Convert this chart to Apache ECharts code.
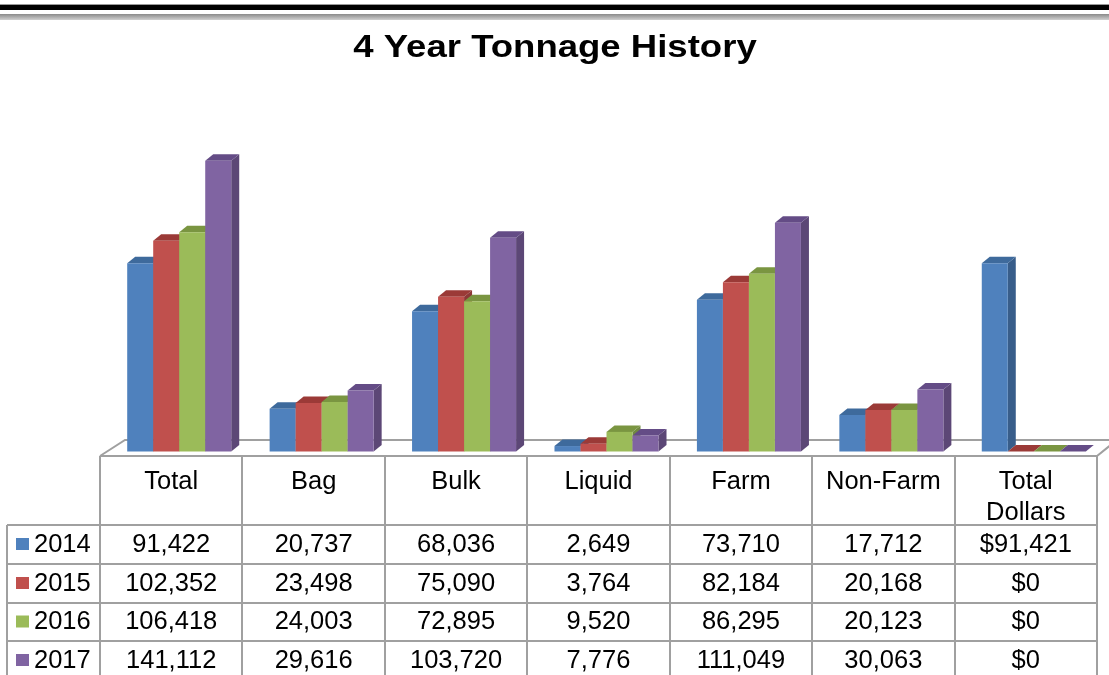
<!DOCTYPE html>
<html>
<head>
<meta charset="utf-8">
<script src="https://cdn.jsdelivr.net/npm/echarts@6/dist/echarts.min.js"></script>
<style>
html,body{margin:0;padding:0;background:#fff;}
#chart{width:1109px;height:675px;}
</style>
</head>
<body>
<div id="chart"></div>
<script>
const categories = ['Total', 'Bag', 'Bulk', 'Liquid', 'Farm', 'Non-Farm', 'Total\nDollars'];
const years = ['2014', '2015', '2016', '2017'];
const v2014 = [91422, 20737, 68036, 2649, 73710, 17712, 91421];
const v2015 = [102352, 23498, 75090, 3764, 82184, 20168, 0];
const v2016 = [106418, 24003, 72895, 9520, 86295, 20123, 0];
const v2017 = [141112, 29616, 103720, 7776, 111049, 30063, 0];
const seriesValues = [v2014, v2015, v2016, v2017];
const dollarColumn = 6;

const frontColors = ['#4F81BD', '#C0504D', '#9BBB59', '#8064A2'];
const sideColors = ['#385D8A', '#8C3836', '#71893F', '#5C4776'];
const topColors = ['#3E6A9C', '#9B3A37', '#7A9541', '#644C86'];

const FONT = 'Liberation Sans';
const LINE = '#a0a0a0';

const chart = echarts.init(document.getElementById('chart'));

function fmt(v, col) {
  const s = String(v).replace(/\B(?=(\d{3})+(?!\d))/g, ',');
  return col === dollarColumn ? '$' + s : s;
}

function makeRender(si) {
  return function (params, api) {
    const idx = api.value(0);
    const val = api.value(1);
    const c = api.coord([idx, val]);
    const b = api.coord([idx, 0]);
    const colW = api.size([1, 0])[0];
    const bw = colW * 0.1826;
    const dx = 8, dy = 6.5;
    const left = c[0] - 2 * bw + 8 + si * bw;
    const top = c[1], bot = b[1];
    return {
      type: 'group',
      children: [
        {
          type: 'polygon',
          shape: { points: [[left + bw, top], [left + bw + dx, top - dy], [left + bw + dx, bot - dy], [left + bw, bot]] },
          style: { fill: sideColors[si] }
        },
        {
          type: 'polygon',
          shape: { points: [[left, top], [left + dx, top - dy], [left + bw + dx, top - dy], [left + bw, top]] },
          style: { fill: topColors[si] }
        },
        {
          type: 'rect',
          shape: { x: left, y: top, width: bw, height: bot - top },
          style: { fill: frontColors[si] }
        }
      ]
    };
  };
}

const series = seriesValues.map((vals, si) => ({
  type: 'custom',
  name: years[si],
  renderItem: makeRender(si),
  data: vals.map((v, i) => [i, v]),
  encode: { x: 0, y: 1 },
  z: 3,
  silent: true
}));

const option = {
  animation: false,
  backgroundColor: '#fff',
  grid: { left: 100, right: 12, top: 142.5, bottom: 223.5 },
  xAxis: {
    type: 'category',
    data: categories,
    axisLine: { show: false },
    axisTick: { show: false },
    axisLabel: {
      interval: 0,
      color: '#000',
      fontFamily: FONT,
      fontSize: 25.5,
      lineHeight: 31,
      margin: 15
    }
  },
  yAxis: {
    type: 'value',
    min: 0,
    max: 150000,
    show: false,
    splitLine: { show: false }
  },
  series: series
};
chart.setOption(option);

// Build table + decoration
const gLeft = 100, gRight = 1097;
const colW = (gRight - gLeft) / categories.length;
const rowLines = [525, 564, 603, 641, 680];
const g = [];

// top decorative lines
g.push({ type: 'rect', shape: { x: 0, y: 4, width: 1109, height: 1 }, style: { fill: '#999' }, silent: true });
g.push({ type: 'rect', shape: { x: 0, y: 5, width: 1109, height: 5 }, style: { fill: '#000' }, silent: true });
g.push({
  type: 'rect', shape: { x: 0, y: 14, width: 1109, height: 6 }, silent: true,
  style: { fill: new echarts.graphic.LinearGradient(0, 0, 0, 1, [{ offset: 0, color: '#8a8a8a' }, { offset: 1, color: '#d0d0d0' }]) }
});

// title
g.push({
  type: 'text', x: 555, y: 48, scaleX: 1.16, silent: true,
  style: { text: '4 Year Tonnage History', x: 0, y: 0, align: 'center', verticalAlign: 'middle', fill: '#000',
           fontFamily: FONT, fontSize: 31.5, fontWeight: 'bold' }
});

// floor
const lineStyle = { stroke: LINE, lineWidth: 2, fill: null };
g.push({ type: 'polyline', shape: { points: [[gLeft, 456], [125, 440], [1112, 440]] }, style: lineStyle, silent: true, z: 0 });
g.push({ type: 'polyline', shape: { points: [[gLeft, 456], [gRight, 456], [1112, 444]] }, style: lineStyle, silent: true, z: 0 });

// table horizontal lines
rowLines.forEach(y => {
  g.push({ type: 'line', shape: { x1: 7, y1: y, x2: gRight, y2: y }, style: { stroke: LINE, lineWidth: 2 }, silent: true });
});
// verticals
g.push({ type: 'line', shape: { x1: 7, y1: 525, x2: 7, y2: 680 }, style: { stroke: LINE, lineWidth: 2 }, silent: true });
for (let k = 0; k <= categories.length; k++) {
  const x = Math.round(gLeft + k * colW);
  g.push({ type: 'line', shape: { x1: x, y1: 456, x2: x, y2: 680 }, style: { stroke: LINE, lineWidth: 2 }, silent: true });
}

// rows
years.forEach((yr, si) => {
  const yc = (rowLines[si] + rowLines[si + 1]) / 2;
  g.push({ type: 'rect', shape: { x: 16, y: yc - 6.5, width: 13, height: 12 }, style: { fill: frontColors[si] }, silent: true });
  g.push({
    type: 'text', x: 34, y: yc, silent: true,
    style: { text: yr, align: 'left', verticalAlign: 'middle', fill: '#000', fontFamily: FONT, fontSize: 25.5 }
  });
  seriesValues[si].forEach((v, i) => {
    const xc = chart.convertToPixel({ xAxisIndex: 0 }, i);
    g.push({
      type: 'text', x: xc, y: yc, silent: true,
      style: { text: fmt(v, i), align: 'center', verticalAlign: 'middle', fill: '#000', fontFamily: FONT, fontSize: 25.5 }
    });
  });
});

chart.setOption({ graphic: { elements: g } });
</script>
</body>
</html>
